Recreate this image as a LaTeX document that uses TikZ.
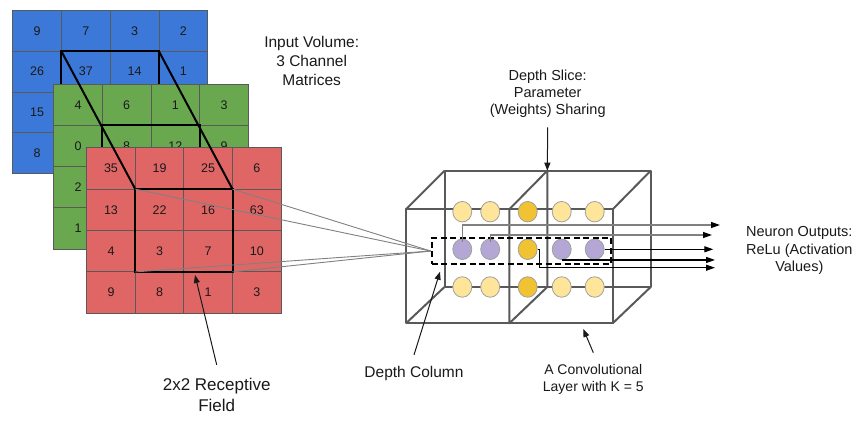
\documentclass[tikz,border=0pt]{standalone}
\usepackage{fontspec}
\setmainfont{Liberation Sans}
\usetikzlibrary{arrows.meta,shapes.geometric}
\definecolor{mblue}{HTML}{3C78D8}
\definecolor{mgreen}{HTML}{6AA84F}
\definecolor{mred}{HTML}{E06666}
\definecolor{ly}{HTML}{FFE599}
\definecolor{dy}{HTML}{F1C232}
\definecolor{pu}{HTML}{B4A7D6}
\definecolor{edge}{HTML}{595959}
\definecolor{lgr}{HTML}{808080}
\definecolor{nb}{HTML}{A0A0A0}
\newcommand\drawmat[7]{%
  \foreach \v [count=\k from 0] in {#7} {%
    \pgfmathtruncatemacro\mr{\k/4}%
    \pgfmathtruncatemacro\mc{mod(\k,4)}%
    \node[cell, fill=#2, minimum width=#5pt, minimum height=#6pt] (#1-\mr-\mc) at ({#3+\mc*#5},{#4+\mr*#6}) {\v};
  }}
\begin{document}
\begin{tikzpicture}[x=1pt,y=-1pt,
  cell/.style={draw=edge,line width=0.9pt,anchor=north west,inner sep=0pt,outer sep=0pt,text=black!90,font=\fontsize{12.5}{14}\selectfont},
  rfbox/.style={draw=black,line width=2pt},
  conn/.style={draw=lgr,line width=0.9pt},
  wire/.style={draw=edge,line width=2pt,line join=round},
  neuron/.style={ellipse,draw=nb,line width=0.8pt,minimum width=19pt,minimum height=20.5pt,inner sep=0pt},
  lbl/.style={align=center,inner sep=0pt,text=black!90},
  outg/.style={draw=lgr,line width=1.3pt,-{Triangle[length=9pt,width=6pt,color=black]}},
  outb/.style={draw=black,line width=1.2pt,-{Triangle[length=9pt,width=6pt]}},
  lab/.style={draw=black!90,line width=1pt,-{Triangle[length=8pt,width=6pt]}}]
\useasboundingbox (0,0) rectangle (863,422);
% matrices
\drawmat{b}{mblue}{12.7}{10.7}{48.75}{40.65}{9,7,3,2,26,37,14,1,15,{},{},{},8,{},{},{}}
\draw[rfbox] (b-1-1.north west) rectangle (b-2-2.south east);
\drawmat{g}{mgreen}{53.7}{84.3}{48.65}{41.2}{4,6,1,3,0,8,12,9,2,{},{},{},1,{},{},{}}
\draw[rfbox] (g-1-1.north west) rectangle (g-2-2.south east);
\drawmat{r}{mred}{86.7}{147.7}{48.6}{41.4}{35,19,25,6,13,22,16,63,4,3,7,10,9,8,1,3}
\draw[rfbox] (r-1-1.north west) rectangle (r-2-2.south east);
\draw[rfbox] (b-1-1.north west) -- (r-1-1.north west);
\draw[rfbox] (b-1-2.north east) -- (r-1-2.north east);
% convolutional layer box
\coordinate (f1) at (406,209.3); \coordinate (f2) at (612.7,209.3);
\coordinate (f3) at (612.7,323.3); \coordinate (f4) at (406,323.3);
\coordinate (k1) at (444.5,170.7); \coordinate (k2) at (650.7,170.7);
\coordinate (k3) at (650.7,287); \coordinate (k4) at (444.5,287);
\coordinate (fm1) at (509.3,209.3); \coordinate (fm2) at (509.3,323.3);
\coordinate (bm) at (547.3,170.7); \coordinate (bm2) at (547.3,287);
\draw[wire] (f1) -- (f2) -- (f3) -- (f4) -- cycle;
\draw[wire] (k1) -- (k2) -- (k3) -- (k4) -- cycle;
\draw[wire] (f1) -- (k1) (f2) -- (k2) (f3) -- (k3) (f4) -- (k4);
\draw[wire] (fm1) -- (fm2) -- (bm2) -- (bm) -- cycle;
% neurons
\foreach \x/\n/\ca/\cb in {462.3/1/ly/pu,490.2/2/ly/pu,527.7/3/dy/dy,561.7/4/ly/pu,594.7/5/ly/pu} {
  \node[neuron,fill=\ca] (c-1-\n) at (\x,211.7) {};
  \node[neuron,fill=\cb] (c-2-\n) at (\x,249.3) {};
  \node[neuron,fill=\ca] (c-3-\n) at (\x,287) {};
}
% depth column
\node[draw=black,line width=2pt,dash pattern=on 6pt off 3.5pt,anchor=north west,inner sep=0pt,minimum width=179.3pt,minimum height=26.7pt] (dc) at (430.7,236.7) {};
% receptive field connectors
\draw[conn] (r-1-1.north west) -- (dc.west);
\draw[conn] (r-1-2.north east) -- (dc.west);
\draw[conn] (r-2-1.south west) -- (dc.west);
\draw[conn] (r-2-2.south east) -- (dc.west);
% outputs
\coordinate (o1) at (720,225);
\coordinate (o2) at (712,235);
\coordinate (o3) at (713.3,249.3);
\coordinate (o4) at (715,260);
\coordinate (o5) at (715,267.7);
\draw[outg] ([yshift=-3pt]c-2-1.north) |- (o1);
\draw[outg] ([yshift=-3pt]c-2-2.north) |- (o2);
\draw[outb] (c-2-5.east) -- (o3);
\draw[outb] (c-2-4.south) -- (c-2-4.south -| o4);
\draw[outb] (c-2-3.east) -- ++(2,0) |- (o5);
% labels
\node[lbl,font=\fontsize{15.5}{19.2}\selectfont] (iv) at (311.7,60.7) {Input Volume:\\3 Channel\\Matrices};
\node[lbl,font=\fontsize{14.5}{17}\selectfont] (ds) at (547.7,93.5) {Depth Slice:\\Parameter\\(Weights) Sharing};
\node[lbl,font=\fontsize{17}{20.7}\selectfont] (rf) at (216.7,394.6) {2x2 Receptive\\Field};
\node[lbl,font=\fontsize{15.5}{19}\selectfont] (dcol) at (414,373.3) {Depth Column};
\node[lbl,font=\fontsize{14}{16.7}\selectfont] (cl) at (593.3,379.3) {A Convolutional\\Layer with K = 5};
\node[lbl,font=\fontsize{14.5}{17.5}\selectfont] (no) at (799.3,250.8) {Neuron Outputs:\\ReLu (Activation\\Values)};
\coordinate (rftip) at (195,275);
\coordinate (dctip) at (440,271.7);
\coordinate (cltip) at (583.3,329);
\draw[lab] ([yshift=13pt]rf.north) -- (rftip);
\draw[lab] ([yshift=11pt]dcol.north) -- (dctip);
\draw[lab] ([yshift=-10pt]ds.south) -- (bm);
\draw[lab] ([yshift=11.6pt]cl.north) -- (cltip);
\end{tikzpicture}
\end{document}
